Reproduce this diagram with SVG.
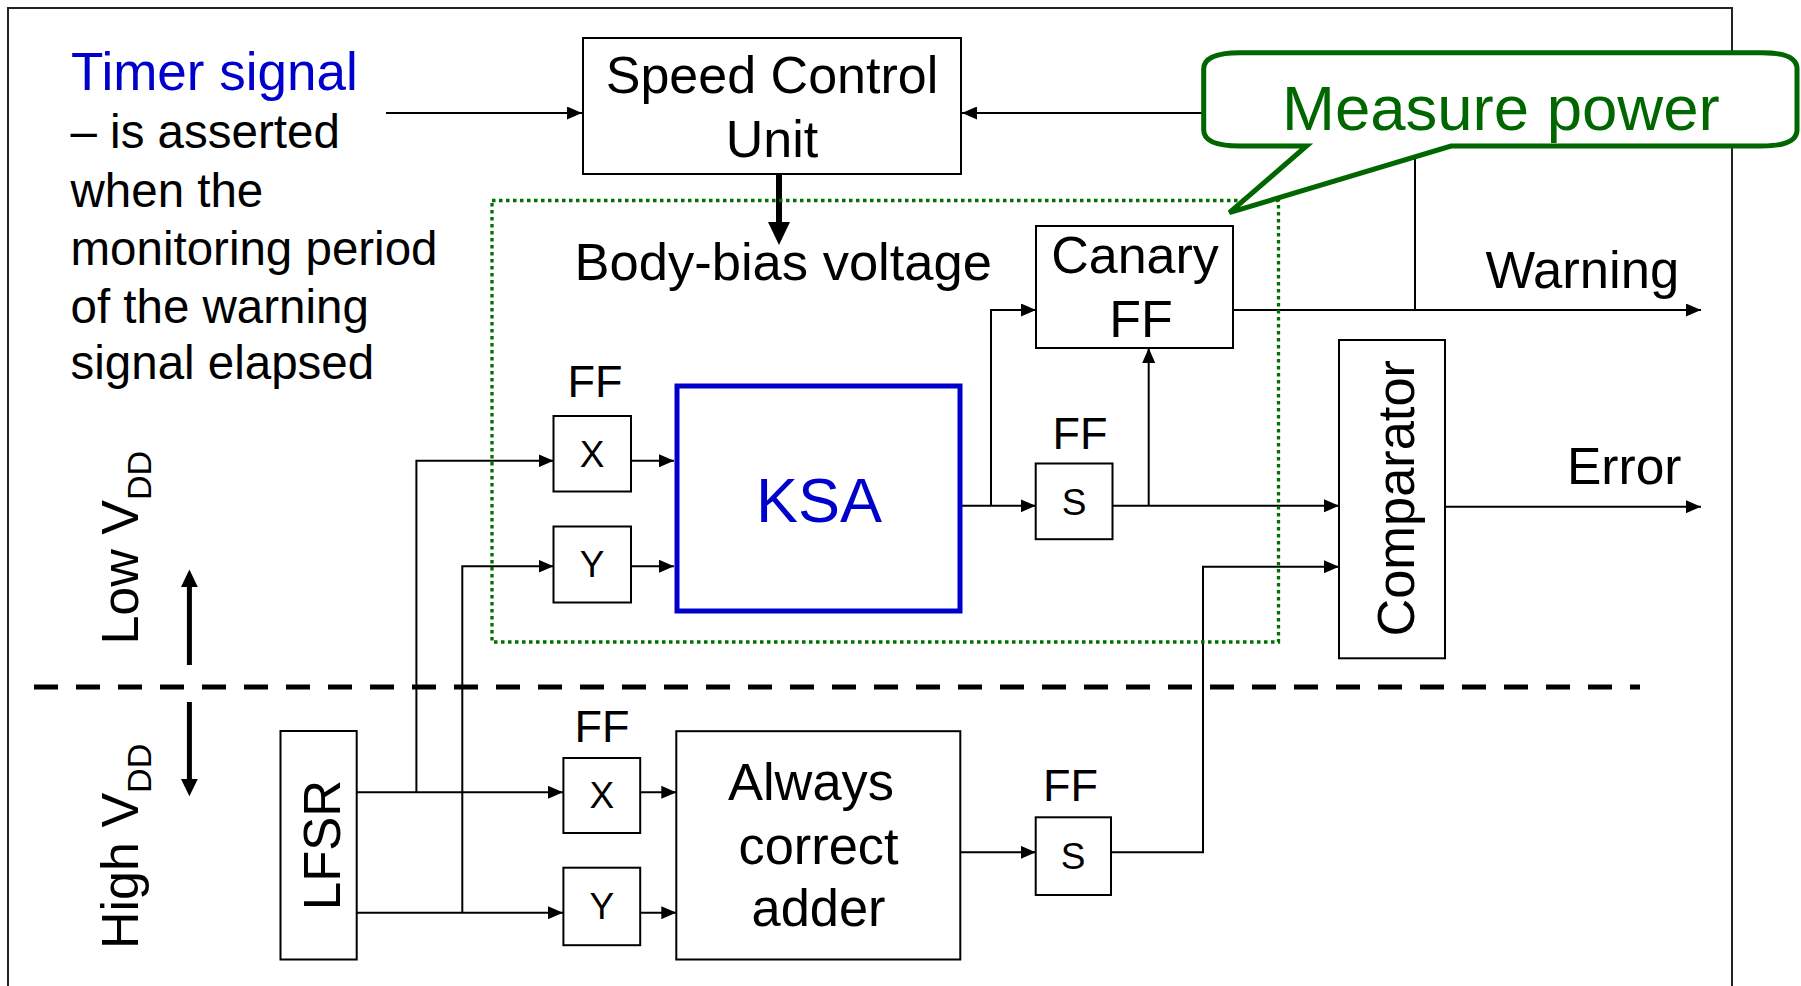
<svg xmlns="http://www.w3.org/2000/svg" width="1801" height="986" viewBox="0 0 1801 986">
<defs>
<style>
text{font-family:"Liberation Sans",Arial,sans-serif;fill:#000}
.box{fill:#fff;stroke:#000;stroke-width:2}
.wire{fill:none;stroke:#000;stroke-width:2}
.lbl{font-size:52px}
.ff{font-size:45px;text-anchor:middle}
.io{font-size:37px;text-anchor:middle}
.body{font-size:47.5px}
.mid{text-anchor:middle}
</style>
<marker id="ah" markerUnits="userSpaceOnUse" markerWidth="15" markerHeight="13" refX="15" refY="6.5" orient="auto">
<path d="M0,0 L15,6.5 L0,13 z" fill="#000"/>
</marker>
</defs>
<rect width="1801" height="986" fill="#fff"/>
<path id="frame" d="M8,990 V8 H1732 V990" fill="none" stroke="#222" stroke-width="2"/>

<g id="timer-text">
<text x="71" y="90" font-size="53" style="fill:#0000CC">Timer signal</text>
<text class="body" x="70.5" y="148.3">– is asserted</text>
<text class="body" x="70.5" y="206.7">when the</text>
<text class="body" x="70.5" y="265">monitoring period</text>
<text class="body" x="70.5" y="322.7">of the warning</text>
<text class="body" x="70.5" y="379.3">signal elapsed</text>
</g>

<g id="vdd-labels">
<line x1="34" y1="687" x2="1640" y2="687" stroke="#000" stroke-width="5" stroke-dasharray="24 18"/>
<line x1="189.4" y1="665" x2="189.4" y2="585" stroke="#000" stroke-width="5"/>
<polygon points="181,587 197.8,587 189.4,569.6" fill="#000"/>
<line x1="189.4" y1="702" x2="189.4" y2="781" stroke="#000" stroke-width="5"/>
<polygon points="181,779 197.8,779 189.4,796.2" fill="#000"/>
<text class="lbl" transform="translate(137.8,644.6) rotate(-90)">Low V<tspan font-size="34" dy="13.4">DD</tspan></text>
<text class="lbl" transform="translate(137.8,949) rotate(-90)">High V<tspan font-size="34" dy="13.4">DD</tspan></text>
</g>

<g id="connectors">
<path class="wire" d="M386,113 H582" marker-end="url(#ah)"/>
<path class="wire" d="M1415,310 V113 H962" marker-end="url(#ah)"/>
<path class="wire" d="M357,792.3 H563" marker-end="url(#ah)"/>
<path class="wire" d="M416.4,792.3 V460.8 H553.5" marker-end="url(#ah)"/>
<path class="wire" d="M357,912.7 H563" marker-end="url(#ah)"/>
<path class="wire" d="M462.3,912.7 V566.2 H553.5" marker-end="url(#ah)"/>
<path class="wire" d="M631,460.8 H674" marker-end="url(#ah)"/>
<path class="wire" d="M631,566.2 H674" marker-end="url(#ah)"/>
<path class="wire" d="M962,505.8 H1035.7" marker-end="url(#ah)"/>
<path class="wire" d="M991,505.8 V310 H1036" marker-end="url(#ah)"/>
<path class="wire" d="M1112.5,505.8 H1339" marker-end="url(#ah)"/>
<path class="wire" d="M1148.7,505.8 V348" marker-end="url(#ah)"/>
<path class="wire" d="M1233,310 H1701" marker-end="url(#ah)"/>
<path class="wire" d="M1445,506.7 H1701" marker-end="url(#ah)"/>
<path class="wire" d="M640.2,792.3 H676.3" marker-end="url(#ah)"/>
<path class="wire" d="M640.2,912.7 H676.3" marker-end="url(#ah)"/>
<path class="wire" d="M960.3,852.3 H1035.7" marker-end="url(#ah)"/>
<path class="wire" d="M1111,852.3 H1203 V566.7 H1339" marker-end="url(#ah)"/>
<line x1="779" y1="174" x2="779" y2="224" stroke="#000" stroke-width="6"/>
<polygon points="768,222 790,222 779,245" fill="#000"/>
</g>

<g id="speed-control-unit">
<rect class="box" x="583" y="38" width="378" height="136"/>
<text class="lbl mid" x="772" y="93">Speed Control</text>
<text class="lbl mid" x="772" y="157">Unit</text>
</g>

<g id="body-bias">
<text x="574.6" y="280" font-size="52.5">Body-bias voltage</text>
</g>

<g id="canary-ff">
<rect class="box" x="1036" y="226" width="197" height="122"/>
<text class="lbl mid" x="1135" y="273">Canary</text>
<text class="lbl mid" x="1141" y="337">FF</text>
</g>

<g id="ff-x-top">
<text class="ff" x="595" y="397">FF</text>
<rect class="box" x="553.5" y="416" width="77.5" height="75.5"/>
<text class="io" x="592" y="466.5">X</text>
</g>
<g id="ff-y-top">
<rect class="box" x="553.5" y="526.5" width="77.5" height="76"/>
<text class="io" x="592" y="577">Y</text>
</g>

<g id="ksa">
<rect x="677" y="386" width="283" height="225" fill="#fff" stroke="#0000CC" stroke-width="5"/>
<text class="mid" x="819" y="522" font-size="63" style="fill:#0000CC">KSA</text>
</g>

<g id="ff-s-top">
<text class="ff" x="1080" y="449">FF</text>
<rect class="box" x="1035.7" y="463.5" width="76.8" height="75.7"/>
<text class="io" x="1074" y="514.6">S</text>
</g>

<g id="comparator">
<rect class="box" x="1339" y="340" width="106" height="318.3"/>
<text class="mid" transform="translate(1413.6,498.3) rotate(-90)" font-size="52.4">Comparator</text>
</g>

<g id="warning-label"><text x="1485.4" y="288.3" font-size="52.6">Warning</text></g>
<g id="error-label"><text x="1567" y="484" font-size="51.5">Error</text></g>

<g id="lfsr">
<rect class="box" x="280.5" y="731" width="76.2" height="228.5"/>
<text class="mid" transform="translate(339.5,845) rotate(-90)" font-size="51">LFSR</text>
</g>

<g id="ff-x-bottom">
<text class="ff" x="602" y="741.5">FF</text>
<rect class="box" x="563.4" y="758" width="76.8" height="75"/>
<text class="io" x="601.8" y="808">X</text>
</g>
<g id="ff-y-bottom">
<rect class="box" x="563.4" y="867.7" width="76.8" height="77.5"/>
<text class="io" x="601.8" y="918.5">Y</text>
</g>

<g id="always-correct-adder">
<rect class="box" x="676.3" y="731.2" width="284" height="228.3"/>
<text class="mid" x="811" y="800" font-size="52.4">Always</text>
<text class="mid" x="818.5" y="864" font-size="52.4">correct</text>
<text class="mid" x="818.5" y="926" font-size="52.4">adder</text>
</g>

<g id="ff-s-bottom">
<text class="ff" x="1070.5" y="801">FF</text>
<rect class="box" x="1035.7" y="817.3" width="75.3" height="77.7"/>
<text class="io" x="1073" y="868.5">S</text>
</g>

<g id="measure-region">
<rect x="492" y="200.5" width="786.5" height="441.5" fill="none" stroke="#007000" stroke-width="3.3" stroke-dasharray="3.5 3.5"/>
</g>

<g id="measure-power-callout">
<path d="M1240,52.7 H1762 Q1797,52.7 1797,69 V130 Q1797,146 1762,146 H1451 L1229.4,212.7 L1306.5,146 H1240 Q1203.7,146 1203.7,130 V69 Q1203.7,52.7 1240,52.7 Z" fill="#fff" stroke="#006600" stroke-width="5" stroke-linejoin="miter"/>
<text x="1282" y="130" font-size="63.5" style="fill:#006600">Measure power</text>
</g>
</svg>
